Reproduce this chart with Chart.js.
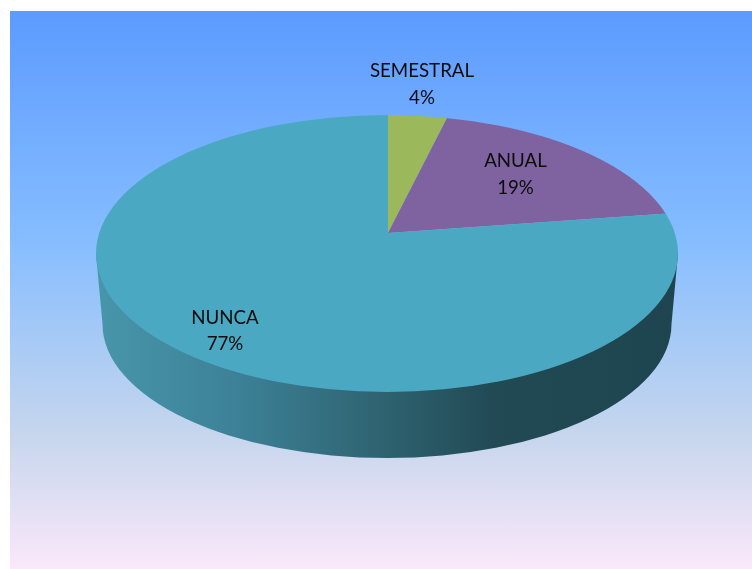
<!DOCTYPE html>
<html>
<head>
<meta charset="utf-8">
<script src="https://cdn.jsdelivr.net/npm/chart.js@4"></script>
<style>
  html, body { margin: 0; padding: 0; background: #fff; }
  #wrap { position: relative; width: 752px; height: 569px; overflow: hidden; }
  #bg {
    position: absolute; left: 10px; top: 11px; right: 0; bottom: 0;
    background: linear-gradient(to bottom, #5c9bff 0%, #86bdff 41%, #c6d6ed 76%, #fbe8fa 100%);
  }
  canvas { position: absolute; left: 0; top: 0; }
</style>
</head>
<body>
<div id="wrap">
  <div id="bg"></div>
  <canvas id="pie" width="752" height="569"></canvas>
</div>
<script>
// data
const categories = ["SEMESTRAL", "ANUAL", "NUNCA"];
const values = [4, 18.8, 77.2];
const colors = ["#9bb95b", "#7f63a0", "#4aa8c2"];

// 3d look: top ellipse, bottom ellipse and where the slices meet
const topEllipse = { x: 387, y: 253.5, rx: 291, ry: 138.5 };
const lowEllipse = { x: 387, y: 324, rx: 284.5, ry: 134 };
const apex = { x: 388, y: 233 };
const tilt = 0.5;
const grow = 1.3;

// label centers, same order as categories
const labelPos = [
  { x: 422, y: 71, gap: 27 },
  { x: 515.5, y: 161, gap: 27 },
  { x: 225, y: 318, gap: 26 },
];

const pie3d = {
  id: "pie3d",
  beforeDatasetsDraw(chart) {
    const ctx = chart.ctx;
    const arc = chart.getDatasetMeta(0).data[0];

    // side wall
    const wall = ctx.createLinearGradient(96, 0, 678, 0);
    wall.addColorStop(0, "#4896ab");
    wall.addColorStop(0.25, "#3c8096");
    wall.addColorStop(0.5, "#2e626f");
    wall.addColorStop(0.68, "#214a55");
    wall.addColorStop(1, "#1e454f");
    ctx.save();
    ctx.beginPath();
    ctx.moveTo(topEllipse.x - topEllipse.rx, topEllipse.y);
    ctx.lineTo(lowEllipse.x - lowEllipse.rx, lowEllipse.y);
    ctx.ellipse(lowEllipse.x, lowEllipse.y, lowEllipse.rx, lowEllipse.ry, 0, Math.PI, 0, true);
    ctx.lineTo(topEllipse.x + topEllipse.rx, topEllipse.y);
    ctx.closePath();
    ctx.fillStyle = wall;
    ctx.fill();
    ctx.restore();

    // top face: the big pie squashed and cut to the ellipse
    ctx.save();
    ctx.beginPath();
    ctx.ellipse(topEllipse.x, topEllipse.y, topEllipse.rx, topEllipse.ry, 0, 0, Math.PI * 2);
    ctx.clip();
    ctx.translate(apex.x, apex.y);
    ctx.scale(grow, grow * tilt);
    ctx.translate(-arc.x, -arc.y);
  },
  afterDatasetsDraw(chart) {
    const ctx = chart.ctx;
    ctx.restore();

    // labels
    ctx.save();
    ctx.font = "18.7px Lato";
    ctx.fillStyle = "#0b0b0b";
    ctx.textAlign = "center";
    ctx.textBaseline = "middle";
    categories.forEach((name, i) => {
      const p = labelPos[i];
      ctx.fillText(name, p.x, p.y);
      ctx.fillText(Math.round(values[i]) + "%", p.x, p.y + p.gap);
    });
    ctx.restore();
  },
};

new Chart(document.getElementById("pie").getContext("2d"), {
  type: "pie",
  data: {
    labels: categories,
    datasets: [
      {
        data: values,
        backgroundColor: colors,
        borderWidth: 0,
        clip: false,
      },
    ],
  },
  options: {
    responsive: false,
    animation: false,
    plugins: { legend: { display: false }, tooltip: { enabled: false } },
  },
  plugins: [pie3d],
});
</script>
</body>
</html>
